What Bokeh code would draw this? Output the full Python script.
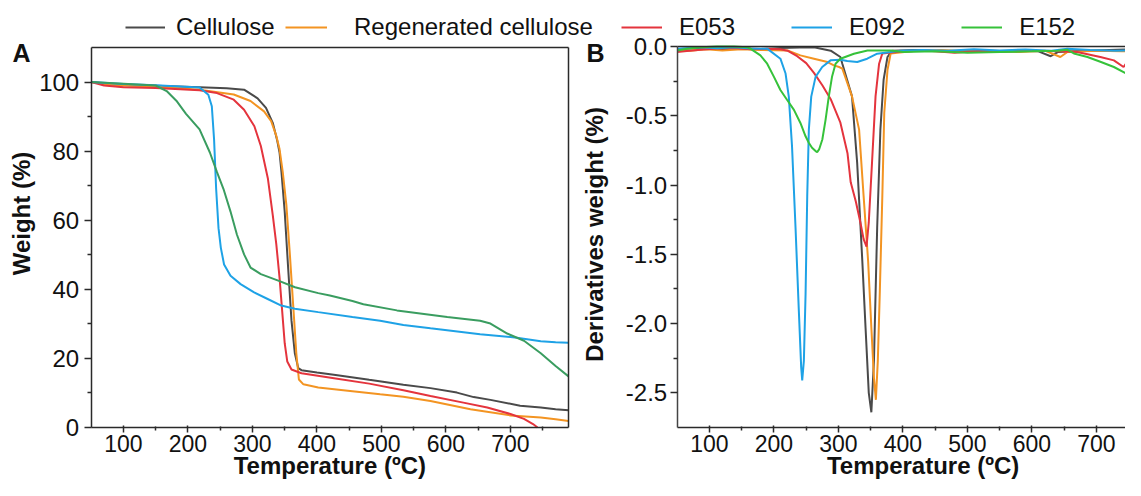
from bokeh.plotting import figure
from bokeh.models import (Range1d, FixedTicker, NumeralTickFormatter, Legend,
                          LegendItem, Label, LinearAxis)
from bokeh.layouts import row
from bokeh.embed import file_html
from bokeh.resources import INLINE

FONT = "Liberation Sans"

# ---------------- Panel A : TGA weight (%) ----------------
cell_T = [50, 75, 100, 150, 218, 260, 287, 308, 321, 331.5, 338, 342, 345, 350, 355, 360.5,
          365.7, 371, 376, 400, 429, 481, 534, 576, 617, 643, 669, 715, 747, 770, 790]
cell_W = [100, 99.5, 99.1, 98.9, 98.5, 98.2, 97.8, 95.3, 92.5, 88.2, 83.4, 79.6, 73.9, 62.5, 47.2, 31.0,
          21.5, 17.2, 16.6, 15.9, 15.2, 13.8, 12.4, 11.4, 10.1, 8.8, 8.0, 6.3, 5.8, 5.3, 5.0]

regen_T = [50, 75, 100, 150, 218, 271, 297, 318, 329, 337, 342, 347, 352.6, 358, 363, 368, 372,
           379, 402, 455, 498, 534, 576, 638, 700, 747, 770, 790]
regen_W = [100, 99.3, 99.0, 98.7, 97.8, 96.4, 94.5, 91.5, 88.7, 84.4, 80.6, 73.9, 64.4, 50.1, 35.8, 21.5, 13.9,
           12.5, 11.6, 10.5, 9.6, 8.9, 7.7, 5.3, 3.5, 2.9, 2.4, 1.9]

e053_T = [50, 70, 100, 150, 218, 245, 271, 287, 303, 313, 324, 331.5, 337, 342, 346, 350, 354, 360.5,
          376, 429, 481, 534, 576, 627, 664, 700, 721, 735, 742]
e053_W = [100, 99.0, 98.5, 98.3, 97.6, 96.8, 94.9, 92.0, 87.2, 81.5, 72.0, 61.5, 53.0, 43.4, 33.9, 24.4, 19.1, 16.8,
          15.7, 14.2, 12.7, 10.8, 9.1, 7.2, 5.8, 3.9, 2.5, 1.0, 0.0]

e092_T = [50, 100, 150, 218, 231.6, 237, 240.5, 243.7, 247.4, 251, 256, 266, 281.6, 302.6, 323.6,
          344.7, 365.7, 402, 455, 498, 534, 576, 653, 710, 747, 770, 790]
e092_W = [100, 99.4, 99.1, 98.4, 96.3, 93.0, 83.4, 69.1, 57.7, 52.0, 47.2, 43.9, 41.5, 39.1, 37.2,
          35.3, 34.4, 33.4, 32.0, 30.9, 29.7, 28.7, 27.0, 26.0, 25.0, 24.7, 24.5]

e152_T = [50, 100, 150, 167, 182, 197, 218, 234, 245, 255, 266, 276, 287, 297, 313, 340, 366, 402,
          420, 455, 472, 524, 602, 653, 669, 695, 721, 747, 770, 790]
e152_W = [100, 99.5, 99.0, 97.4, 94.6, 90.8, 86.3, 79.6, 73.9, 69.1, 62.5, 55.8, 50.1, 46.3, 44.4, 42.5, 40.6, 38.9,
          38.2, 36.6, 35.7, 33.9, 32.0, 30.9, 30.1, 27.2, 25.1, 21.5, 17.8, 14.8]

# ---------------- Panel B : DTG derivative weight (%) ----------------
dcell_T = [50, 70, 95, 120, 150, 180, 210, 240, 262, 288, 303, 306, 321, 329, 337, 342, 347, 351,
           355, 360, 365, 370, 376, 383, 420, 460, 500, 540, 580, 610, 629, 640, 680, 720, 757]
dcell_D = [-0.02, -0.015, -0.01, -0.02, -0.012, -0.018, -0.01, -0.008, -0.005, -0.03, -0.076, -0.124, -0.36, -0.84,
           -1.55, -2.03, -2.50, -2.64, -2.27, -1.31, -0.60, -0.24, -0.076, -0.03, -0.025, -0.035, -0.03, -0.04, -0.03,
           -0.035, -0.07, -0.04, -0.03, -0.025, -0.02]

dregen_T = [50, 70, 95, 120, 150, 180, 221, 241, 262, 283, 293, 301, 306, 321, 332, 339, 346, 351, 355,
            358, 361, 364, 368, 371, 376, 381, 420, 460, 500, 540, 580, 620, 644, 655, 700, 740, 757]
dregen_D = [-0.024, -0.03, -0.02, -0.028, -0.02, -0.025, -0.029, -0.064, -0.088, -0.112, -0.136, -0.148, -0.16,
            -0.36, -0.60, -1.08, -1.55, -2.03, -2.39, -2.55, -2.27, -1.79, -1.08, -0.48, -0.17, -0.05, -0.03,
            -0.025, -0.035, -0.03, -0.04, -0.03, -0.076, -0.04, -0.03, -0.035, -0.03]

de053_T = [50, 65, 86, 112, 138, 164, 190, 210, 221, 236, 250, 262, 275, 288, 303, 314, 319, 327, 334,
           339, 343.5, 347, 352, 357.5, 363, 368, 400, 440, 480, 520, 560, 600, 640, 670, 706, 727, 742, 753, 757]
de053_D = [-0.04, -0.033, -0.024, -0.015, -0.01, -0.02, -0.017, -0.02, -0.03, -0.07, -0.12, -0.19, -0.28, -0.38,
           -0.55, -0.77, -0.98, -1.12, -1.27, -1.39, -1.445, -1.27, -0.84, -0.36, -0.124, -0.05, -0.035, -0.03,
           -0.045, -0.03, -0.035, -0.03, -0.035, -0.04, -0.076, -0.10, -0.148, -0.076, -0.05]

de092_T = [50, 86, 112, 138, 164, 190, 210, 218, 223, 228, 233.5, 238.6, 242.2, 243.8, 246.4, 249, 251.6,
           254.1, 257.8, 264.5, 274.8, 287.7, 303.2, 313.6, 329.1, 344.6, 360.1, 380.7, 396.3, 430, 470, 510,
           550, 590, 630, 655, 690, 730, 757]
de092_D = [-0.017, -0.005, -0.012, -0.005, -0.015, -0.017, -0.088, -0.195, -0.362, -0.719, -1.314, -1.91, -2.314,
           -2.41, -2.267, -1.79, -1.076, -0.60, -0.362, -0.219, -0.148, -0.10, -0.095, -0.105, -0.112, -0.088,
           -0.052, -0.04, -0.03, -0.025, -0.03, -0.02, -0.028, -0.022, -0.03, -0.017, -0.025, -0.03, -0.028]

de152_T = [50, 65, 86, 112, 138, 158, 164, 179, 189.5, 200, 210, 220.5, 231, 241, 249, 254, 259, 264.5,
           267, 270, 275, 280, 285, 290, 295.5, 303, 324, 345, 381, 400, 450, 500, 550, 600, 640, 655, 665,
           686, 706, 727, 748, 757]
de152_D = [-0.029, -0.017, -0.005, 0.0, 0.0, -0.005, -0.017, -0.064, -0.124, -0.219, -0.314, -0.386, -0.457,
           -0.552, -0.648, -0.695, -0.731, -0.755, -0.762, -0.743, -0.671, -0.529, -0.362, -0.219, -0.124, -0.088,
           -0.052, -0.029, -0.029, -0.04, -0.035, -0.045, -0.04, -0.035, -0.03, -0.024, -0.05, -0.076, -0.11,
           -0.148, -0.20, -0.21]

x_ticks = [100, 200, 300, 400, 500, 600, 700]
x_minor = [150, 250, 350, 450, 550, 650, 750]
wA_ticks = [0, 20, 40, 60, 80, 100]
wA_minor = [10, 30, 50, 70, 90]
dB_ticks = [0.0, -0.5, -1.0, -1.5, -2.0, -2.5]
dB_minor = [-0.25, -0.75, -1.25, -1.75, -2.25]

labels = ["Cellulose", "Regenerated cellulose", "E053", "E092", "E152"]
col_cell = "#4a4a4a"
col_regen = "#f39422"
col_e053 = "#e4343d"
col_e092 = "#1ea2e6"
col_e152_A = "#3a9d60"
col_e152_B = "#36c23a"

AX = "#2a2a2a"
TXT = "#111111"

# ---------------- layout geometry (pixels inside each figure) ----------------
H = 480
WA, WB = 610, 515
A_XLIM, A_YLIM = (50, 790), (0, 110)
B_XLIM, B_YLIM = (50, 745), (-2.75, 0)
A_PX = dict(left=90.7, right=568.0, top=47.0, bottom=427.0)
B_PX = dict(left=66.7, right=515.0, top=46.0, bottom=427.0)


def x_range_for(lim, px, width):
    lo, hi = lim
    s = (px["right"] - px["left"]) / (hi - lo)
    return Range1d(lo - px["left"] / s, hi + (width - px["right"]) / s)


def y_range_for(lim, px, height):
    lo, hi = lim
    s = (px["bottom"] - px["top"]) / (hi - lo)
    return Range1d(lo - (height - px["bottom"]) / s, hi + px["top"] / s)


def base_fig(width, xlim, ylim, px):
    p = figure(width=width, height=H, x_range=x_range_for(xlim, px, width),
               y_range=y_range_for(ylim, px, H), output_backend="svg", toolbar_location=None,
               min_border_left=0, min_border_right=0, min_border_top=0, min_border_bottom=0)
    p.outline_line_color = None
    p.xgrid.visible = False
    p.ygrid.visible = False
    p.background_fill_color = "white"
    p.border_fill_color = "white"
    return p


def style_axis(ax, tick_out, tick_in, minor_out, minor_in, size, standoff):
    ax.axis_label = None
    ax.major_label_text_font = FONT
    ax.major_label_text_font_size = size
    ax.major_label_text_color = TXT
    ax.major_label_standoff = standoff
    ax.major_tick_out = tick_out
    ax.major_tick_in = tick_in
    ax.minor_tick_out = minor_out
    ax.minor_tick_in = minor_in
    ax.axis_line_color = AX
    ax.axis_line_width = 1.5
    ax.major_tick_line_color = AX
    ax.minor_tick_line_color = AX
    ax.major_tick_line_width = 1.5
    ax.minor_tick_line_width = 1.5


def frame_line(loc, bounds):
    return LinearAxis(fixed_location=loc, bounds=bounds, ticker=FixedTicker(ticks=[]),
                      major_tick_line_color=None, minor_tick_line_color=None,
                      major_label_text_font_size="0px", axis_line_color=AX, axis_line_width=1.5)


def make_legend(items, loc, glyph_w, standoff, spacing=0):
    return Legend(items=items, location=loc, orientation="horizontal",
                  glyph_width=glyph_w, glyph_height=28, label_height=28,
                  label_standoff=standoff, spacing=spacing, padding=0, margin=0,
                  border_line_color=None, background_fill_alpha=0,
                  label_text_font=FONT, label_text_font_size="24px",
                  label_text_color=TXT, label_text_baseline="middle")


def text_label(text, x, page_y, size="24px", angle=0, align="center"):
    return Label(x=x, y=H - page_y, x_units="screen", y_units="screen", text=text,
                 angle=angle, angle_units="deg",
                 text_font=FONT, text_font_style="bold", text_font_size=size,
                 text_color=TXT, text_baseline="middle", text_align=align)


LEG_BOTTOM = H - 41   # legend boxes sit between y=13 and y=41 from the top

# ---------------- figure A (also carries the B panel letter and y title) ----------------
pA = base_fig(WA, A_XLIM, A_YLIM, A_PX)
xa = pA.xaxis[0]
xa.fixed_location = A_YLIM[0]
xa.bounds = A_XLIM
xa.ticker = FixedTicker(ticks=x_ticks, minor_ticks=x_minor)
style_axis(xa, 5, 2, 3, 1, "23px", 2)
ya = pA.yaxis[0]
ya.fixed_location = A_XLIM[0]
ya.bounds = A_YLIM
ya.ticker = FixedTicker(ticks=wA_ticks, minor_ticks=wA_minor)
style_axis(ya, 7, 0, 4, 0, "24px", 5)
pA.add_layout(frame_line(A_YLIM[1], A_XLIM), "above")
pA.add_layout(frame_line(A_XLIM[1], A_YLIM), "right")

rA = []
for T, W, c in [(cell_T, cell_W, col_cell), (regen_T, regen_W, col_regen), (e053_T, e053_W, col_e053),
                (e092_T, e092_W, col_e092), (e152_T, e152_W, col_e152_A)]:
    rA.append(pA.line(T, W, line_color=c, line_width=2))

pA.add_layout(make_legend([LegendItem(label=labels[0], renderers=[rA[0]])], (125, LEG_BOTTOM), 40, 11))
pA.add_layout(make_legend([LegendItem(label=labels[1], renderers=[rA[1]])], (285, LEG_BOTTOM), 42, 27))
pA.add_layout(text_label("A", 12, 52, size="25px", align="left"))
pA.add_layout(text_label("Weight (%)", 21, 213, angle=90))
pA.add_layout(text_label("Temperature (ºC)", (A_PX["left"] + A_PX["right"]) / 2, 465))
pA.add_layout(text_label("B", 586, 52, size="25px", align="left"))
pA.add_layout(text_label("Derivatives weight (%)", 594, 234, angle=90))

# ---------------- figure B ----------------
pB = base_fig(WB, B_XLIM, B_YLIM, B_PX)
xb = pB.xaxis[0]
xb.fixed_location = B_YLIM[0]
xb.bounds = B_XLIM
xb.ticker = FixedTicker(ticks=x_ticks, minor_ticks=x_minor)
style_axis(xb, 5, 2, 3, 1, "23px", 2)
yb = pB.yaxis[0]
yb.fixed_location = B_XLIM[0]
yb.bounds = B_YLIM
yb.ticker = FixedTicker(ticks=dB_ticks, minor_ticks=dB_minor)
yb.formatter = NumeralTickFormatter(format="0.0")
style_axis(yb, 7, 0, 4, 0, "24px", 3)
yb.axis_line_color = "#444444"
pB.add_layout(frame_line(B_YLIM[1], B_XLIM), "above")

rB = []
for T, D, c in [(dcell_T, dcell_D, col_cell), (dregen_T, dregen_D, col_regen), (de053_T, de053_D, col_e053),
                (de092_T, de092_D, col_e092), (de152_T, de152_D, col_e152_B)]:
    rB.append(pB.line(T, D, line_color=c, line_width=2))

pB.add_layout(make_legend([LegendItem(label=labels[i], renderers=[rB[i]]) for i in (2, 3, 4)],
                          (11, LEG_BOTTOM), 41, 17, spacing=56))
pB.add_layout(text_label("Temperature (ºC)", 312.6, 465))

layout = row(pA, pB)
open("out.html", "w").write(file_html(layout, INLINE))
